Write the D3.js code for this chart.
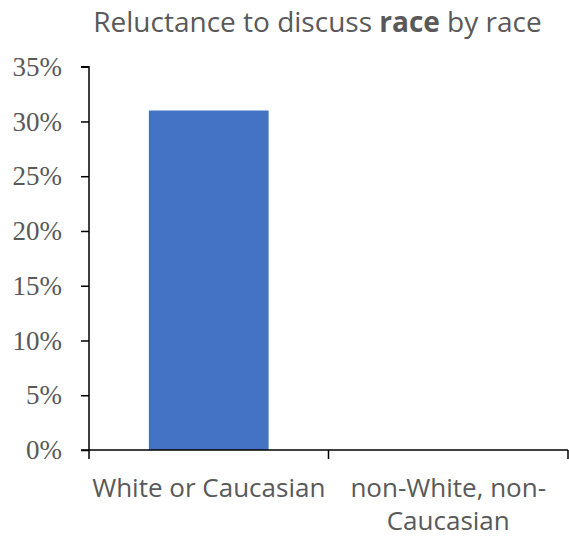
<!DOCTYPE html>
<html>
<head>
<meta charset="utf-8">
<script src="https://cdn.jsdelivr.net/npm/d3@7"></script>
<style>
  html, body { margin: 0; padding: 0; background: #fff; }
  svg { display: block; }
</style>
</head>
<body>
<svg id="chart" width="569" height="537"></svg>
<script>
// Share of respondents reluctant to discuss race, by respondent race
const categories = ["White or Caucasian", "non-White, non-Caucasian"];
const categoryLines = [["White or Caucasian"], ["non-White, non-", "Caucasian"]];
const values = [0.31, 0];
const yTicks = [0, 0.05, 0.10, 0.15, 0.20, 0.25, 0.30, 0.35];

const svg = d3.select("#chart");
const margin = { left: 89, top: 66.7 };
const plotRight = 568;
const plotBottom = 450;

const x = d3.scaleBand()
  .domain(categories)
  .range([margin.left, plotRight])
  .padding(0);

const y = d3.scaleLinear()
  .domain([0, 0.35])
  .range([plotBottom, margin.top]);

// Title
const title = svg.append("text")
  .attr("x", 317.5)
  .attr("y", 32)
  .attr("text-anchor", "middle")
  .attr("font-family", "'Open Sans', sans-serif")
  .attr("font-size", 28)
  .attr("fill", "#595959");
title.append("tspan").text("Reluctance to discuss ");
title.append("tspan").attr("font-weight", "bold").text("race");
title.append("tspan").text(" by race");

// Bars
svg.append("g")
  .selectAll("rect")
  .data(values)
  .join("rect")
  .attr("x", (d, i) => x(categories[i]) + x.bandwidth() * 0.25)
  .attr("width", x.bandwidth() * 0.5)
  .attr("y", d => y(d))
  .attr("height", d => plotBottom - y(d))
  .attr("fill", "#4472C4");

// Y axis
const yAxis = svg.append("g")
  .attr("transform", `translate(${margin.left},0)`)
  .call(d3.axisLeft(y).tickValues(yTicks).tickFormat(d3.format(".0%")).tickSize(8).tickPadding(19));
yAxis.select(".domain").attr("stroke", "#000").attr("stroke-width", 1.5).attr("d", `M-8,${y(0.35)}H0V${plotBottom + 9}`);
yAxis.selectAll(".tick line").attr("stroke", "#000").attr("stroke-width", 1.5);
yAxis.selectAll(".tick text")
  .attr("font-family", "'Liberation Serif', 'Times New Roman', serif")
  .attr("font-size", 27)
  .attr("fill", "#595959");

// X axis
const xAxis = svg.append("g")
  .attr("transform", `translate(0,${plotBottom})`);
xAxis.append("path")
  .attr("d", `M${margin.left - 8},0H${plotRight}`)
  .attr("stroke", "#000")
  .attr("stroke-width", 1.5)
  .attr("fill", "none");
const bounds = [...categories.map(c => x(c)), x.range()[1]];
xAxis.selectAll("line.tick")
  .data(bounds.slice(1))
  .join("line")
  .attr("class", "tick")
  .attr("x1", d => d).attr("x2", d => d)
  .attr("y1", 0).attr("y2", 9)
  .attr("stroke", "#000")
  .attr("stroke-width", 1.5);

xAxis.selectAll("text.cat")
  .data(categories)
  .join("text")
  .attr("class", "cat")
  .attr("x", d => x(d) + x.bandwidth() / 2)
  .attr("y", 47)
  .attr("text-anchor", "middle")
  .attr("font-family", "'Open Sans', sans-serif")
  .attr("font-size", 26)
  .attr("fill", "#595959")
  .each(function(d, i) {
    d3.select(this).selectAll("tspan")
      .data(categoryLines[i])
      .join("tspan")
      .attr("x", x(d) + x.bandwidth() / 2)
      .attr("dy", (t, j) => j === 0 ? 0 : 33)
      .text(t => t);
  });
</script>
</body>
</html>
